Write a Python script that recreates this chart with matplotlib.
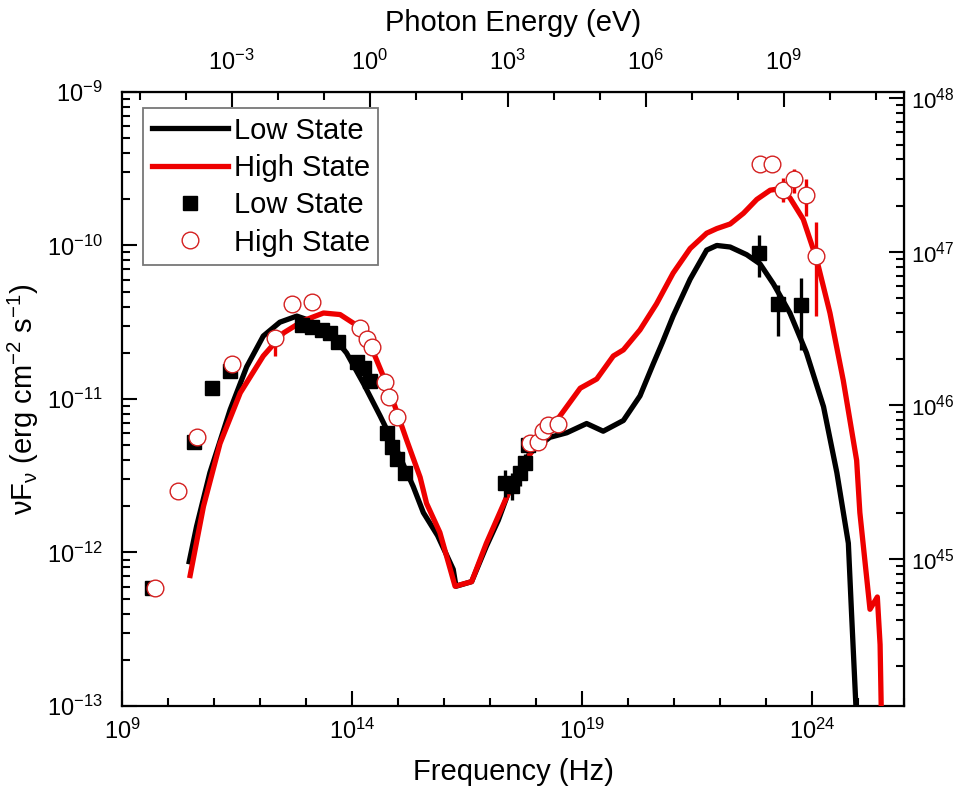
import numpy as np
import matplotlib
matplotlib.use('Agg')
import matplotlib.pyplot as plt
from matplotlib.ticker import FixedLocator, LogLocator, LogFormatterSciNotation, NullFormatter
from matplotlib.lines import Line2D

plt.rcParams['font.family'] = ['Liberation Sans', 'DejaVu Sans']
plt.rcParams['mathtext.fontset'] = 'custom'
plt.rcParams['mathtext.rm'] = 'Liberation Sans'
plt.rcParams['mathtext.it'] = 'Liberation Sans:italic'
plt.rcParams['mathtext.bf'] = 'Liberation Sans:bold'
plt.rcParams['axes.unicode_minus'] = False

# model curves: log10(nu / Hz), log10(nuFnu / erg cm^-2 s^-1)
low_model_lognu = [10.46, 10.62, 10.91, 11.35, 11.71, 12.07, 12.43, 12.80, 13.09, 13.52,
                   13.88, 14.25, 14.61, 14.97, 15.33, 15.55, 15.86, 16.20, 16.26, 16.60,
                   16.92, 17.18, 17.40, 17.65, 17.87, 18.30, 18.67, 19.10, 19.46, 19.90,
                   20.26, 20.55, 20.75, 20.98, 21.35, 21.71, 21.93, 22.22, 22.58, 22.87,
                   23.16, 23.52, 23.88, 24.25, 24.54, 24.79, 24.86, 24.97]
low_model_logf = [-12.06, -11.83, -11.48, -11.07, -10.79, -10.59, -10.50, -10.46, -10.49, -10.57,
                  -10.70, -10.90, -11.11, -11.33, -11.57, -11.74, -11.89, -12.11, -12.22, -12.19,
                  -11.96, -11.79, -11.61, -11.46, -11.35, -11.25, -11.22, -11.16, -11.21, -11.14,
                  -10.98, -10.77, -10.63, -10.46, -10.22, -10.03, -10.00, -10.01, -10.06, -10.12,
                  -10.25, -10.44, -10.70, -11.05, -11.48, -11.94, -12.40, -13.10]

high_model_lognu = [10.48, 10.77, 11.13, 11.57, 12.07, 12.51, 12.94, 13.38, 13.74, 14.10,
                    14.47, 14.83, 15.19, 15.48, 15.62, 15.91, 16.24, 16.60, 16.92, 17.36,
                    17.72, 18.09, 18.45, 18.96, 19.32, 19.68, 19.90, 20.26, 20.62, 20.98,
                    21.35, 21.71, 21.93, 22.22, 22.51, 22.80, 23.09, 23.30, 23.52, 23.81,
                    24.10, 24.39, 24.68, 24.97, 25.04, 25.26, 25.42, 25.48, 25.51]
high_model_logf = [-12.15, -11.70, -11.29, -10.96, -10.72, -10.57, -10.49, -10.44, -10.45, -10.52,
                   -10.70, -10.96, -11.27, -11.51, -11.68, -11.87, -12.22, -12.19, -11.94, -11.64,
                   -11.42, -11.27, -11.14, -10.93, -10.87, -10.72, -10.68, -10.55, -10.38, -10.18,
                   -10.02, -9.92, -9.89, -9.86, -9.79, -9.70, -9.64, -9.63, -9.69, -9.83,
                   -10.09, -10.44, -10.88, -11.40, -11.74, -12.37, -12.29, -12.60, -13.10]

# observed data, errors in dex (lower, upper)
low_data_lognu = [9.65, 10.57, 10.95, 11.35, 12.91, 13.12, 13.34, 13.52, 13.70, 14.10,
                  14.25, 14.39, 14.75, 14.86, 14.97, 15.15, 17.33, 17.47, 17.65, 17.76,
                  17.83, 22.85, 23.27, 23.76]
low_data_logf = [-12.23, -11.28, -10.93, -10.82, -10.52, -10.53, -10.55, -10.57, -10.63, -10.76,
                 -10.80, -10.88, -11.22, -11.31, -11.39, -11.48, -11.55, -11.57, -11.48, -11.42,
                 -11.30, -10.05, -10.38, -10.39]
low_data_errlo = [0, 0, 0, 0, 0, 0, 0, 0, 0, 0,
                  0, 0, 0, 0, 0, 0, 0.09, 0.09, 0.09, 0.06,
                  0.03, 0.155, 0.21, 0.29]
low_data_errhi = [0, 0, 0, 0, 0, 0, 0, 0, 0, 0,
                  0, 0, 0, 0, 0, 0, 0.09, 0.09, 0.09, 0.06,
                  0.03, 0.117, 0.12, 0.18]

high_data_lognu = [9.72, 10.21, 10.62, 11.38, 12.33, 12.69, 13.12, 14.17, 14.32, 14.43,
                   14.72, 14.81, 14.97, 17.87, 18.05, 18.16, 18.27, 18.48, 22.88, 23.14,
                   23.36, 23.61, 23.86, 24.09]
high_data_logf = [-12.23, -11.60, -11.25, -10.77, -10.60, -10.38, -10.37, -10.54, -10.61, -10.66,
                  -10.89, -10.99, -11.12, -11.29, -11.28, -11.21, -11.17, -11.16, -9.47, -9.47,
                  -9.64, -9.57, -9.67, -10.07]
high_data_errlo = [0, 0, 0, 0, 0.12, 0, 0, 0, 0, 0,
                   0, 0, 0, 0, 0, 0, 0, 0, 0, 0,
                   0.08, 0.09, 0.14, 0.39]
high_data_errhi = [0, 0, 0, 0, 0, 0, 0, 0, 0, 0,
                   0, 0, 0, 0, 0, 0, 0, 0, 0, 0,
                   0.08, 0.07, 0.10, 0.22]

bottom_ticks = [1e9, 1e14, 1e19, 1e24]
top_ticks = [1e-3, 1e0, 1e3, 1e6, 1e9]
left_ticks = [1e-13, 1e-12, 1e-11, 1e-10, 1e-9]
right_ticks = [1e45, 1e46, 1e47, 1e48]

H_EV = 4.1357e-15      # Planck constant in eV s
LUM_FACTOR = 1.1e57    # 4 pi d^2 (nuLnu = factor * nuFnu)

RED = '#ee0000'


def to_flux(logf, elo, ehi):
    f = 10 ** np.array(logf)
    lower = f - f * 10 ** (-np.array(elo))
    upper = f * 10 ** np.array(ehi) - f
    return f, [lower, upper]


def style_ticks(a, size=17):
    a.tick_params(which='both', direction='in', width=1.5, labelsize=size)
    a.tick_params(which='major', length=11)
    a.tick_params(which='minor', length=6)


fig = plt.figure(figsize=(9.61, 7.86), dpi=100)
ax = fig.add_axes([0.127, 0.1018, 0.8137, 0.7812])

ax.plot(10 ** np.array(low_model_lognu), 10 ** np.array(low_model_logf),
        color='black', lw=3.8, zorder=2, solid_joinstyle='round')
ax.plot(10 ** np.array(high_model_lognu), 10 ** np.array(high_model_logf),
        color=RED, lw=3.8, zorder=3, solid_joinstyle='round')

f_lo, err_lo = to_flux(low_data_logf, low_data_errlo, low_data_errhi)
ax.errorbar(10 ** np.array(low_data_lognu), f_lo, yerr=err_lo, fmt='s', color='black',
            ms=10, elinewidth=2.4, capsize=0, zorder=4)
f_hi, err_hi = to_flux(high_data_logf, high_data_errlo, high_data_errhi)
ax.errorbar(10 ** np.array(high_data_lognu), f_hi, yerr=err_hi, fmt='o', color=RED,
            mfc='white', mec='#d42020', mew=1.0, ms=12, elinewidth=2.4, capsize=0, zorder=5)

ax.set_xscale('log')
ax.set_yscale('log')
ax.set_xlim(1e9, 1e26)
ax.set_ylim(1e-13, 1e-9)

ax.xaxis.set_major_locator(FixedLocator(bottom_ticks))
ax.xaxis.set_minor_locator(FixedLocator([10.0 ** k for k in range(9, 27)]))
ax.xaxis.set_major_formatter(LogFormatterSciNotation())
ax.xaxis.set_minor_formatter(NullFormatter())
ax.yaxis.set_major_locator(FixedLocator(left_ticks))
ax.yaxis.set_major_formatter(LogFormatterSciNotation())
ax.yaxis.set_minor_locator(LogLocator(base=10, subs=np.arange(2, 10), numticks=20))
ax.yaxis.set_minor_formatter(NullFormatter())
style_ticks(ax)
ax.tick_params(axis='x', which='major', pad=9)
ax.tick_params(axis='y', which='major', pad=14)
for sp in ax.spines.values():
    sp.set_linewidth(1.6)

ax.set_xlabel('Frequency (Hz)', fontsize=21, labelpad=10)
ax.set_ylabel(r'νF$_{\mathrm{ν}}$ (erg cm$^{-2}$ s$^{-1}$)', fontsize=21, labelpad=4)

# top axis: photon energy
top = ax.secondary_xaxis('top', functions=(lambda nu: nu * H_EV, lambda e: e / H_EV))
top.xaxis.set_major_locator(FixedLocator(top_ticks))
top.xaxis.set_minor_locator(FixedLocator([10.0 ** k for k in range(-5, 12)]))
top.xaxis.set_major_formatter(LogFormatterSciNotation())
top.xaxis.set_minor_formatter(NullFormatter())
style_ticks(top)
top.tick_params(which='major', pad=12)
top.set_xlabel('Photon Energy (eV)', fontsize=21, labelpad=14)

# right axis: luminosity
right = ax.secondary_yaxis('right', functions=(lambda f: f * LUM_FACTOR, lambda l: l / LUM_FACTOR))
right.yaxis.set_major_locator(FixedLocator(right_ticks))
right.yaxis.set_major_formatter(LogFormatterSciNotation())
right.yaxis.set_minor_locator(FixedLocator([m * 10.0 ** k for k in range(44, 48) for m in range(2, 10)]))
right.yaxis.set_minor_formatter(NullFormatter())
style_ticks(right, size=16)
right.tick_params(which='major', pad=5)

handles = [
    Line2D([], [], color='black', lw=3.8),
    Line2D([], [], color=RED, lw=3.8),
    Line2D([], [], color='black', marker='s', ls='none', ms=10),
    Line2D([], [], color='#d42020', marker='o', ls='none', mfc='white', mew=1.0, ms=12),
]
labels = ['Low State', 'High State', 'Low State', 'High State']
leg = ax.legend(handles, labels, loc='upper left', bbox_to_anchor=(0.027, 0.974),
                borderaxespad=0, fontsize=21, handlelength=2.6, handletextpad=0.2,
                labelspacing=0.32, borderpad=0.3, fancybox=False, framealpha=1)
leg.get_frame().set_edgecolor('#777777')
leg.get_frame().set_linewidth(1.3)

fig.savefig('out.png', dpi=100)
